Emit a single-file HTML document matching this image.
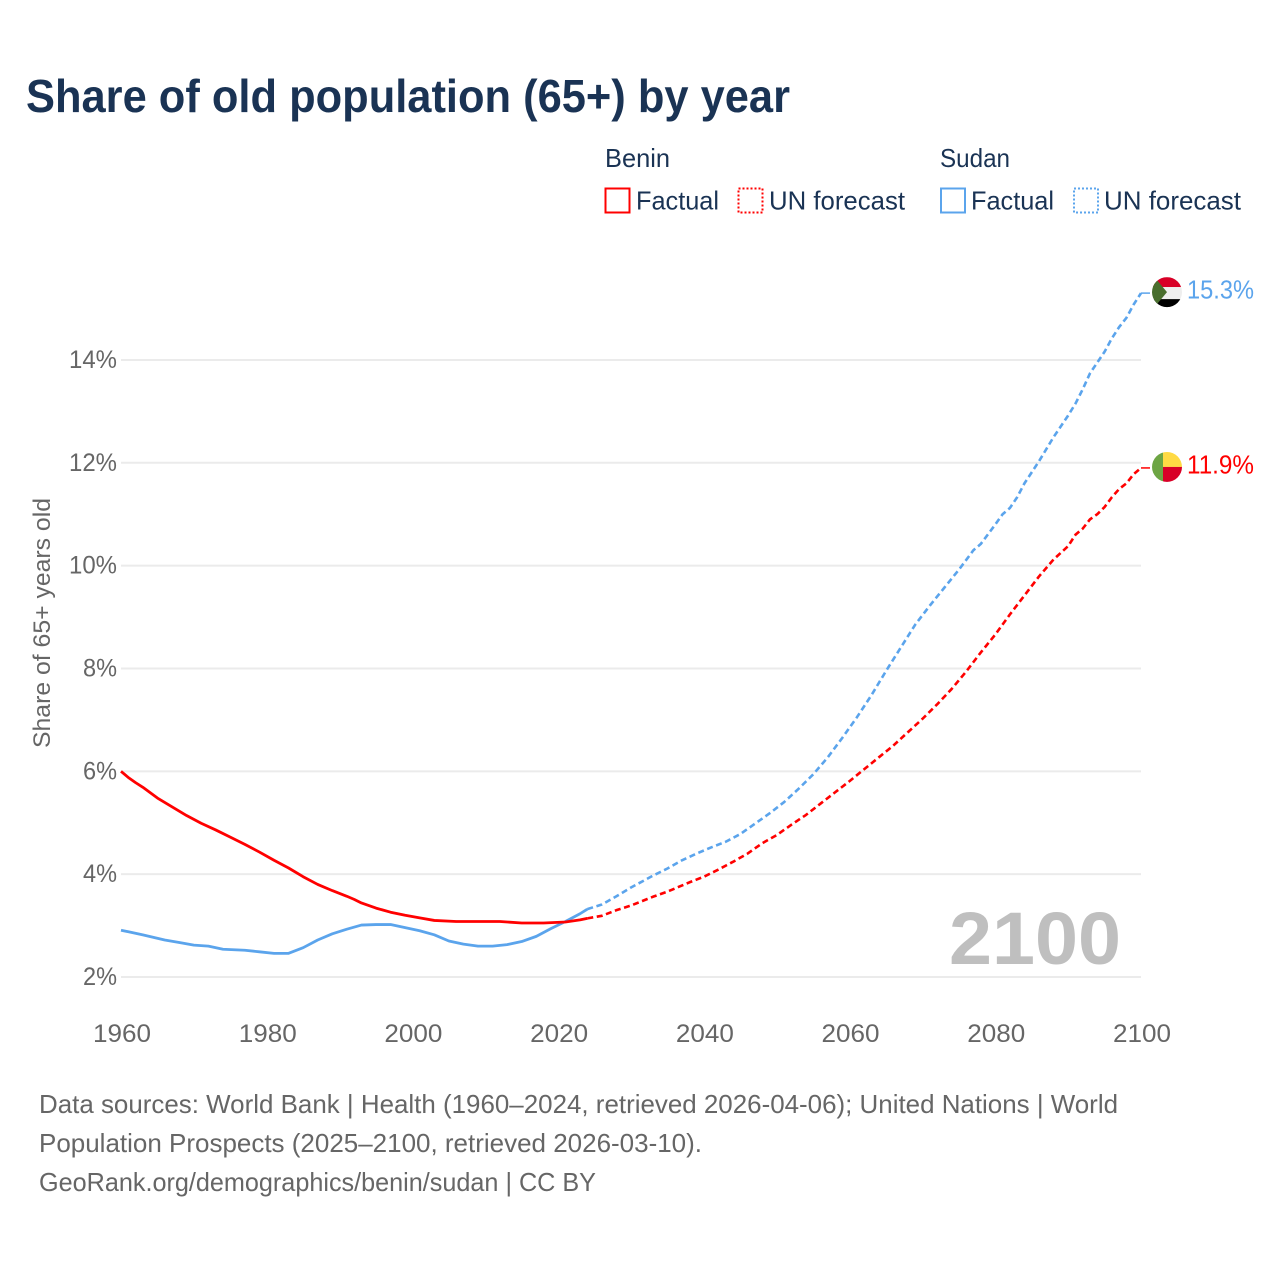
<!DOCTYPE html>
<html lang="en">
<head>
<meta charset="utf-8">
<title>Share of old population (65+) by year</title>
<style>
  html, body { margin: 0; padding: 0; background: #fff; }
  svg { display: block; }
  text { font-family: "Liberation Sans", sans-serif; }
</style>
</head>
<body>
<svg id="chart" xmlns="http://www.w3.org/2000/svg" width="1280" height="1280" viewBox="0 0 1280 1280">
  <rect width="1280" height="1280" fill="#ffffff"/>
  <text x="26" y="112" font-size="46" font-weight="700" fill="#1a3354" textLength="764" lengthAdjust="spacingAndGlyphs">Share of old population (65+) by year</text>

  <g font-size="26" fill="#1a3354">
    <text x="605" y="167" textLength="65" lengthAdjust="spacingAndGlyphs">Benin</text>
    <rect x="605.5" y="188.5" width="24" height="24" fill="none" stroke="#ff0000" stroke-width="2"/>
    <text x="636" y="209.5" textLength="83" lengthAdjust="spacingAndGlyphs">Factual</text>
    <rect x="738.5" y="188.5" width="24" height="24" fill="none" stroke="#ff0000" stroke-width="2" stroke-dasharray="2 2"/>
    <text x="769" y="209.5" textLength="136" lengthAdjust="spacingAndGlyphs">UN forecast</text>

    <text x="940" y="167" textLength="70" lengthAdjust="spacingAndGlyphs">Sudan</text>
    <rect x="941" y="188.5" width="24" height="24" fill="none" stroke="#5ba4ec" stroke-width="2"/>
    <text x="971" y="209.5" textLength="83" lengthAdjust="spacingAndGlyphs">Factual</text>
    <rect x="1074" y="188.5" width="24" height="24" fill="none" stroke="#5ba4ec" stroke-width="2" stroke-dasharray="2 2"/>
    <text x="1104" y="209.5" textLength="137" lengthAdjust="spacingAndGlyphs">UN forecast</text>
  </g>

  <text transform="translate(50,748) rotate(-90)" font-size="24" fill="#666666" textLength="250" lengthAdjust="spacingAndGlyphs">Share of 65+ years old</text>

  <g id="grid"></g>
  <g id="yticks" font-size="25" fill="#666666"></g>
  <g id="xticks" font-size="25" fill="#666666"></g>

  <text x="949" y="964" font-size="74" font-weight="700" fill="#bfbfbf" textLength="172" lengthAdjust="spacingAndGlyphs">2100</text>

  <g id="series"></g>

  <g id="flag-sudan">
    <clipPath id="clip-sudan"><circle cx="0" cy="0" r="15"/></clipPath>
    <g clip-path="url(#clip-sudan)">
      <rect x="-15" y="-15" width="30" height="10" fill="#d80027"/>
      <rect x="-15" y="-5" width="30" height="12" fill="#eeeeee"/>
      <rect x="-15" y="7" width="30" height="9" fill="#000000"/>
      <polygon points="-15,-18 0,0 -15,18" fill="#496e2d"/>
    </g>
  </g>
  <g id="flag-benin">
    <clipPath id="clip-benin"><circle cx="0" cy="0" r="15"/></clipPath>
    <g clip-path="url(#clip-benin)">
      <rect x="-15" y="-15" width="11" height="30" fill="#6da544"/>
      <rect x="-4" y="-15" width="19" height="15" fill="#ffda44"/>
      <rect x="-4" y="0" width="19" height="15" fill="#d80027"/>
    </g>
  </g>
  <text id="label-sudan" x="1187" font-size="26" fill="#5ba4ec" textLength="67" lengthAdjust="spacingAndGlyphs"></text>
  <text id="label-benin" x="1187" font-size="26" fill="#ff0000" textLength="67" lengthAdjust="spacingAndGlyphs"></text>

  <g font-size="26" fill="#666666">
    <text x="39" y="1113" textLength="1079" lengthAdjust="spacingAndGlyphs">Data sources: World Bank | Health (1960–2024, retrieved 2026-04-06); United Nations | World</text>
    <text x="39" y="1152" textLength="663" lengthAdjust="spacingAndGlyphs">Population Prospects (2025–2100, retrieved 2026-03-10).</text>
    <text x="39" y="1191" textLength="557" lengthAdjust="spacingAndGlyphs">GeoRank.org/demographics/benin/sudan | CC BY</text>
  </g>
</svg>

<script>
const yTickValues = [2, 4, 6, 8, 10, 12, 14];
const xTickYears = [1960, 1980, 2000, 2020, 2040, 2060, 2080, 2100];

const beninFactualYears = [1960,1961,1962,1963,1965,1967,1969,1971,1973,1975,1977,1979,1981,1983,1985,1987,1989,1991,1992,1993,1995,1997,1999,2001,2003,2006,2012,2015,2018,2021,2023,2024];
const beninFactualValues = [6.00,5.88,5.78,5.69,5.48,5.31,5.14,4.99,4.86,4.72,4.58,4.43,4.27,4.12,3.95,3.80,3.68,3.57,3.51,3.44,3.34,3.26,3.20,3.15,3.10,3.08,3.08,3.05,3.05,3.07,3.11,3.14];

const beninForecastYears = [2024,2026,2028,2030,2033,2035,2038,2040,2042,2044,2046,2048,2050,2052,2054,2056,2058,2060,2062,2064,2066,2068,2070,2072,2074,2076,2078,2080,2082,2084,2086,2088,2090,2091,2092,2093,2094,2095,2096,2097,2098,2099,2100];
const beninForecastValues = [3.14,3.19,3.30,3.39,3.56,3.66,3.84,3.95,4.09,4.24,4.40,4.60,4.76,4.96,5.15,5.37,5.59,5.81,6.04,6.27,6.50,6.76,7.02,7.30,7.60,7.94,8.31,8.66,9.05,9.42,9.79,10.12,10.38,10.60,10.72,10.90,11.00,11.14,11.33,11.49,11.60,11.78,11.90];

const sudanFactualYears = [1960,1963,1966,1968,1970,1972,1974,1977,1979,1981,1983,1985,1987,1989,1991,1993,1995,1997,1999,2001,2003,2005,2007,2009,2011,2013,2015,2017,2019,2021,2023,2024];
const sudanFactualValues = [2.91,2.82,2.72,2.67,2.62,2.60,2.54,2.52,2.49,2.46,2.46,2.57,2.72,2.84,2.93,3.01,3.02,3.02,2.96,2.90,2.82,2.70,2.64,2.60,2.60,2.63,2.69,2.79,2.94,3.08,3.23,3.32];

const sudanForecastYears = [2024,2026,2028,2030,2033,2035,2037,2039,2041,2043,2045,2047,2049,2051,2053,2055,2057,2059,2061,2063,2065,2067,2069,2071,2073,2075,2077,2078,2080,2081,2082,2083,2084,2086,2088,2090,2091,2092,2093,2094,2095,2096,2097,2098,2099,2100];
const sudanForecastValues = [3.32,3.41,3.57,3.74,3.97,4.11,4.27,4.40,4.52,4.63,4.78,4.98,5.18,5.40,5.66,5.94,6.27,6.65,7.05,7.48,7.95,8.40,8.85,9.22,9.57,9.92,10.30,10.42,10.80,11.00,11.12,11.33,11.60,12.03,12.50,12.92,13.15,13.43,13.74,13.95,14.16,14.42,14.64,14.82,15.08,15.30];

const NS = 'http://www.w3.org/2000/svg';
const plotLeft = 121, plotRight = 1141;
function xScale(year) { return plotLeft + (year - 1960) * (plotRight - plotLeft) / 140; }
function yScale(value) { return 977 - (value - 2) * 51.42; }

const gridG = document.getElementById('grid');
const yTicksG = document.getElementById('yticks');
const xTicksG = document.getElementById('xticks');
const seriesG = document.getElementById('series');

yTickValues.forEach(function (v) {
  const line = document.createElementNS(NS, 'line');
  
  
  line.setAttribute('x1', plotLeft);
  line.setAttribute('x2', plotRight);
  line.setAttribute('y1', yScale(v));
  line.setAttribute('y2', yScale(v));
  line.setAttribute('stroke', '#ebebeb');
  line.setAttribute('stroke-width', '2');
  gridG.appendChild(line);

  const t = document.createElementNS(NS, 'text');
  
  
  const w = v >= 10 ? 48 : 34;
  t.setAttribute('x', 117 - w);
  t.setAttribute('y', yScale(v) + 8);
  t.setAttribute('textLength', w);
  t.setAttribute('lengthAdjust', 'spacingAndGlyphs');
  t.textContent = v + '%';
  yTicksG.appendChild(t);
});

xTickYears.forEach(function (yr) {
  const t = document.createElementNS(NS, 'text');
  
  
  t.setAttribute('x', xScale(yr) - 28);
  t.setAttribute('y', 1042);
  t.setAttribute('textLength', 58);
  t.setAttribute('lengthAdjust', 'spacingAndGlyphs');
  t.textContent = yr;
  xTicksG.appendChild(t);
});

function drawSeries(years, values, color, dashed, name) {
  const p = document.createElementNS(NS, 'path');
  
  
  const d = years.map(function (yr, i) {
    return (i ? 'L' : 'M') + xScale(yr).toFixed(2) + ' ' + yScale(values[i]).toFixed(2);
  }).join(' ');
  p.setAttribute('d', d);
  p.setAttribute('fill', 'none');
  p.setAttribute('stroke', color);
  p.setAttribute('stroke-width', dashed ? '2.6' : '2.8');
  p.setAttribute('stroke-linejoin', 'round');
  if (dashed) { p.setAttribute('stroke-dasharray', '6 3.6'); }
  seriesG.appendChild(p);
}

function drawConnector(value, color, name) {
  const c = document.createElementNS(NS, 'line');
  
  
  c.setAttribute('x1', plotRight);
  c.setAttribute('x2', 1150);
  c.setAttribute('y1', yScale(value));
  c.setAttribute('y2', yScale(value));
  c.setAttribute('stroke', color);
  c.setAttribute('stroke-width', '1.5');
  seriesG.appendChild(c);
}

drawSeries(sudanFactualYears, sudanFactualValues, '#5ba4ec', false, 'sudan-factual-line');
drawSeries(sudanForecastYears, sudanForecastValues, '#5ba4ec', true, 'sudan-forecast-line');
drawSeries(beninFactualYears, beninFactualValues, '#ff0000', false, 'benin-factual-line');
drawSeries(beninForecastYears, beninForecastValues, '#ff0000', true, 'benin-forecast-line');

const sudanEnd = sudanForecastValues[sudanForecastValues.length - 1];
const beninEnd = beninForecastValues[beninForecastValues.length - 1];
drawConnector(sudanEnd, '#5ba4ec', 'sudan-end-connector');
drawConnector(beninEnd, '#ff0000', 'benin-end-connector');

document.getElementById('flag-sudan').setAttribute('transform', 'translate(1167,' + (yScale(sudanEnd) - 1) + ')');
document.getElementById('flag-benin').setAttribute('transform', 'translate(1167,' + (yScale(beninEnd) - 1) + ')');
const labelSudan = document.getElementById('label-sudan');
labelSudan.setAttribute('y', yScale(sudanEnd) + 5.5);
labelSudan.textContent = sudanEnd.toFixed(1) + '%';
const labelBenin = document.getElementById('label-benin');
labelBenin.setAttribute('y', yScale(beninEnd) + 5.5);
labelBenin.textContent = beninEnd.toFixed(1) + '%';
</script>
</body>
</html>
